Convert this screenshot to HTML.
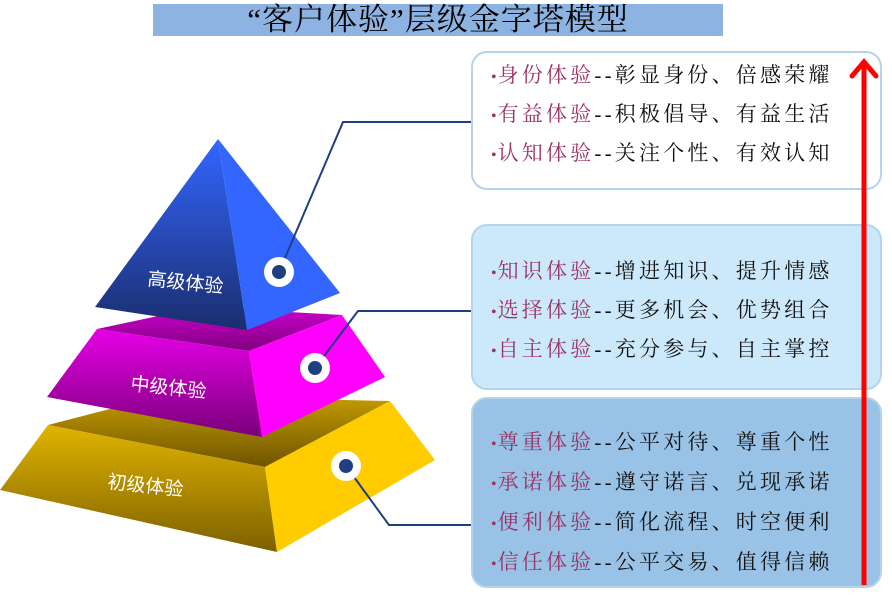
<!DOCTYPE html>
<html><head><meta charset="utf-8"><style>
body{margin:0;width:892px;height:595px;background:#fff;position:relative;overflow:hidden;font-family:"Liberation Serif","Noto Serif CJK SC",serif}
.title{position:absolute;left:153px;top:4px;width:570px;height:32px;background:#8db3e2;text-align:center;font-size:31px;line-height:32px;color:#000;letter-spacing:1px}
.box{position:absolute;left:471px;width:411px;border:2px solid #b4d3ec;border-radius:16px;box-sizing:border-box}
.row{position:absolute;left:18px;font-size:21px;letter-spacing:3.2px;color:#111;white-space:nowrap;line-height:24px}
.row b{font-weight:normal;color:#993366}
.row i{font-style:normal;color:#993366;font-size:16px;margin-right:1px;letter-spacing:0}
</style></head><body>
<div class="title">“客户体验”层级金字塔模型</div>
<svg width="892" height="595" style="position:absolute;left:0;top:0">
<defs>
<linearGradient id="bl" x1="0" y1="0" x2="0" y2="1"><stop offset="0" stop-color="#3366ff"/><stop offset="1" stop-color="#1a2e6e"/></linearGradient>
<linearGradient id="mg" x1="0" y1="0" x2="0" y2="1"><stop offset="0" stop-color="#e600e6"/><stop offset="1" stop-color="#7a007a"/></linearGradient>
<linearGradient id="mt" x1="0" y1="0" x2="0" y2="1"><stop offset="0" stop-color="#cc00cc"/><stop offset="1" stop-color="#800080"/></linearGradient>
<linearGradient id="yl" x1="0" y1="0" x2="0" y2="1"><stop offset="0" stop-color="#e0b400"/><stop offset="1" stop-color="#7d6000"/></linearGradient>
<linearGradient id="yt" x1="0" y1="0" x2="0" y2="1"><stop offset="0" stop-color="#c49c00"/><stop offset="1" stop-color="#6e5500"/></linearGradient>
</defs>
<polygon points="48,425 160,396 390,401 265,467" fill="url(#yt)"/>
<polygon points="48,425 265,467 277,552 0,490" fill="url(#yl)"/>
<polygon points="265,467 390,401 435,460 277,552" fill="#ffcc00"/>
<polygon points="97,329 200,307 342,315 249,351" fill="url(#mt)"/>
<polygon points="97,329 249,351 262,437 47,397" fill="url(#mg)"/>
<polygon points="249,351 342,315 385,377 262,437" fill="#ff00ff"/>
<polygon points="218,139 247,330 95,307" fill="url(#bl)"/>
<polygon points="218,139 340,293 247,330" fill="#3366ff"/>
<g fill="#fff" font-size="19" font-family="Liberation Sans,Noto Sans CJK SC,sans-serif">
<text x="147" y="285" transform="rotate(6 147 285)">高级体验</text>
<text x="130" y="390" transform="rotate(6 130 390)">中级体验</text>
<text x="107" y="488" transform="rotate(6 107 488)">初级体验</text>
</g>
<g stroke="#1f3f80" stroke-width="2" fill="none">
<polyline points="279,272 343,122 471,122"/>
<polyline points="315,368 358,311 471,311"/>
<polyline points="346,466 389,525 471,525"/>
</g>
<g><circle cx="279" cy="272" r="15" fill="#fff"/><circle cx="279" cy="272" r="7" fill="#1f3f80"/>
<circle cx="315" cy="368" r="15" fill="#fff"/><circle cx="315" cy="368" r="7" fill="#1f3f80"/>
<circle cx="346" cy="466" r="15" fill="#fff"/><circle cx="346" cy="466" r="7" fill="#1f3f80"/></g>
</svg>
<div class="box" style="top:51px;height:139px;background:#fff">
<div class="row" style="top:10px"><i>•</i><b>身份体验</b>--彰显身份、倍感荣耀</div>
<div class="row" style="top:49px"><i>•</i><b>有益体验</b>--积极倡导、有益生活</div>
<div class="row" style="top:88px"><i>•</i><b>认知体验</b>--关注个性、有效认知</div>
</div>
<div class="box" style="top:224px;height:166px;background:#cce9fb">
<div class="row" style="top:33px"><i>•</i><b>知识体验</b>--增进知识、提升情感</div>
<div class="row" style="top:72px"><i>•</i><b>选择体验</b>--更多机会、优势组合</div>
<div class="row" style="top:111px"><i>•</i><b>自主体验</b>--充分参与、自主掌控</div>
</div>
<div class="box" style="top:397px;height:191px;background:#99c3e6">
<div class="row" style="top:31px"><i>•</i><b>尊重体验</b>--公平对待、尊重个性</div>
<div class="row" style="top:71px"><i>•</i><b>承诺体验</b>--遵守诺言、兑现承诺</div>
<div class="row" style="top:111px"><i>•</i><b>便利体验</b>--简化流程、时空便利</div>
<div class="row" style="top:151px"><i>•</i><b>信任体验</b>--公平交易、值得信赖</div>
</div>
<svg width="892" height="595" style="position:absolute;left:0;top:0">
<line x1="864" y1="585" x2="864" y2="62" stroke="#ff0000" stroke-width="5"/>
<polyline points="852,76 864,62 876,76" stroke="#ff0000" stroke-width="5" fill="none" stroke-linecap="round"/>
</svg>
</body></html>
